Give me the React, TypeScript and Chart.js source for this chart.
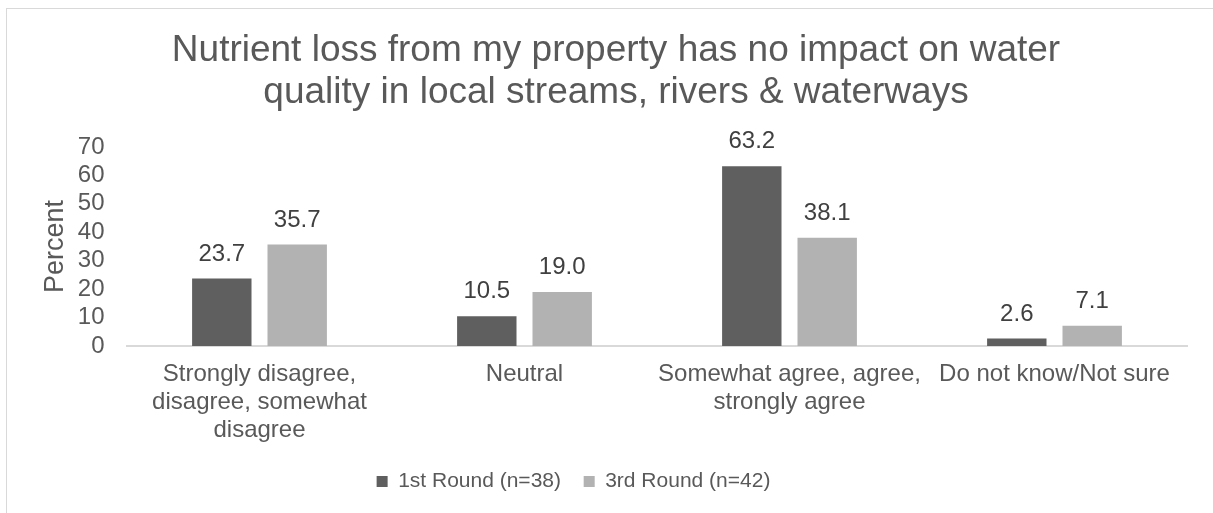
import React, { useEffect, useRef } from "react";
import { Chart, registerables } from "chart.js";

Chart.register(...registerables);

const titleLines = [
  "Nutrient loss from my property has no impact on water",
  "quality in local streams, rivers & waterways",
];
const categories = [
  ["Strongly disagree,", "disagree, somewhat", "disagree"],
  ["Neutral"],
  ["Somewhat agree, agree,", "strongly agree"],
  ["Do not know/Not sure"],
];
const seriesLabels = ["1st Round (n=38)", "3rd Round (n=42)"];
const round1Values = [23.7, 10.5, 63.2, 2.6];
const round3Values = [35.7, 19.0, 38.1, 7.1];
const yAxisTitle = "Percent";
const yMin = 0;
const yMax = 70;
const yStep = 10;

const FONT = "'Liberation Sans', Arial, sans-serif";
const TEXT = "#595959";

const dataLabelPlugin = {
  id: "dataLabels",
  afterDatasetsDraw(chart: any) {
    const ctx = chart.ctx;
    ctx.save();
    ctx.font = `24px ${FONT}`;
    ctx.fillStyle = "#404040";
    ctx.textAlign = "center";
    ctx.textBaseline = "middle";
    chart.data.datasets.forEach((ds: any, i: number) => {
      const meta = chart.getDatasetMeta(i);
      meta.data.forEach((bar: any, j: number) => {
        ctx.fillText(Number(ds.data[j]).toFixed(1), bar.x, bar.y - 24.5);
      });
    });
    ctx.restore();
  },
};

const shiftPlugin = {
  id: "shiftBlocks",
  afterLayout(chart: any) {
    const lg = chart.legend;
    if (lg) {
      lg.left -= 20;
      lg.right -= 20;
    }
    const tb = chart.titleBlock;
    if (tb) {
      tb.left += 22.5;
      tb.right += 22.5;
    }
  },
};

export default function App() {
  const ref = useRef<HTMLCanvasElement>(null);
  useEffect(() => {
    if (!ref.current) return;
    const chart = new Chart(ref.current, {
      type: "bar",
      data: {
        labels: categories,
        datasets: [
          {
            label: seriesLabels[0],
            data: round1Values,
            backgroundColor: "#5f5f5f",
            borderWidth: 0,
            categoryPercentage: 0.569,
            barPercentage: 0.788,
          },
          {
            label: seriesLabels[1],
            data: round3Values,
            backgroundColor: "#b2b2b2",
            borderWidth: 0,
            categoryPercentage: 0.569,
            barPercentage: 0.788,
          },
        ],
      },
      options: {
        responsive: false,
        animation: false,
        layout: { padding: { left: 0, right: 26, top: 0, bottom: 11 } },
        plugins: {
          title: {
            display: true,
            text: titleLines,
            color: TEXT,
            font: { family: FONT, size: 37, weight: "normal", lineHeight: 1.124 },
            padding: { top: 30.4, bottom: 33.4 },
          },
          legend: {
            display: true,
            position: "bottom",
            labels: {
              color: TEXT,
              font: { family: FONT, size: 21 },
              boxWidth: 11,
              boxHeight: 11,
              padding: 22.7,
            },
          },
          tooltip: { enabled: false },
        },
        scales: {
          x: {
            grid: { display: false, drawTicks: false },
            border: { display: true, color: "#d9d9d9", width: 2 },
            ticks: {
              color: TEXT,
              font: { family: FONT, size: 24, lineHeight: 1.15 },
              padding: 15,
              maxRotation: 0,
              autoSkip: false,
            },
            afterFit(s: any) {
              s.height = 102.3;
            },
          },
          y: {
            min: yMin,
            max: yMax,
            grid: { display: false, drawTicks: false },
            border: { display: false },
            ticks: {
              stepSize: yStep,
              autoSkip: false,
              color: TEXT,
              font: { family: FONT, size: 24 },
              padding: 22.5,
            },
            title: {
              display: true,
              text: yAxisTitle,
              color: TEXT,
              font: { family: FONT, size: 27, lineHeight: 1.2 },
              padding: { top: 39, bottom: 0 },
            },
            afterFit(s: any) {
              s.width = 127;
            },
          },
        },
      },
      plugins: [dataLabelPlugin, shiftPlugin],
    } as any);
    return () => chart.destroy();
  }, []);

  return (
    <div
      style={{
        position: "fixed",
        left: 0,
        top: 0,
        width: 1213,
        height: 513,
        overflow: "hidden",
        background: "#ffffff",
      }}
    >
      <div
        style={{
          position: "absolute",
          left: 6,
          top: 8,
          width: 1400,
          height: 700,
          border: "1px solid #d9d9d9",
        }}
      />
      <canvas
        ref={ref}
        width={1213}
        height={513}
        style={{ position: "absolute", left: 0, top: 0, display: "block" }}
      />
    </div>
  );
}
